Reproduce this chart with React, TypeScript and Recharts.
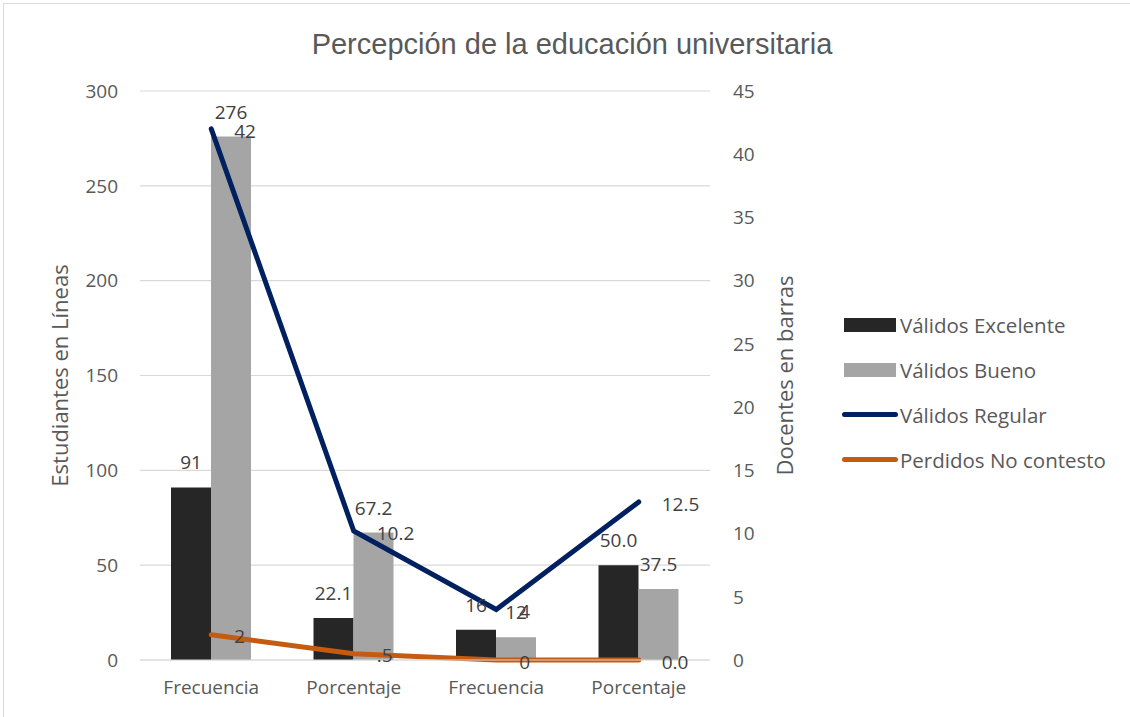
import React from 'react';
import { Bar, CartesianGrid, ComposedChart, LabelList, Line, XAxis, YAxis } from 'recharts';

const categories = ['Frecuencia', 'Porcentaje', 'Frecuencia', 'Porcentaje'];
const excelente = [91, 22.1, 16, 50.0];
const bueno = [276, 67.2, 12, 37.5];
const regular = [42, 10.2, 4, 12.5];
const noContesto = [2, 0.5, 0, 0];

const excelenteLabels = ['91', '22.1', '16', '50.0'];
const buenoLabels = ['276', '67.2', '12', '37.5'];
const regularLabels = ['42', '10.2', '4', '12.5'];
const noContestoLabels = ['2', '.5', '0', '0.0'];

const leftTicks = [0, 50, 100, 150, 200, 250, 300];
const rightTicks = [0, 5, 10, 15, 20, 25, 30, 35, 40, 45];

const data = categories.map((c, i) => ({
  name: c,
  excelente: excelente[i],
  bueno: bueno[i],
  regular: regular[i],
  noContesto: noContesto[i],
}));

const FONT = '"Open Sans", Lato, sans-serif';
const TEXT = '#595959';
const LABEL = '#404040';

const legendItems = [
  { name: 'Válidos Excelente', color: '#262626', kind: 'bar' },
  { name: 'Válidos Bueno', color: '#a5a5a5', kind: 'bar' },
  { name: 'Válidos Regular', color: '#002060', kind: 'line' },
  { name: 'Perdidos No contesto', color: '#c55a11', kind: 'line' },
];

// data labels to the right of line points
const sideLabel = (labels: string[]) => (props: any) => {
  const { x, y, index } = props;
  return (
    <text x={x + 23} y={y + 2} dy="0.35em" textAnchor="start" fontSize={19} fill={LABEL} fontFamily={FONT}>
      {labels[index]}
    </text>
  );
};

export default function App() {
  return (
    <div style={{ position: 'absolute', left: 0, top: 0, width: 1130, height: 717, background: '#fff', fontFamily: FONT }}>
      <div style={{ position: 'absolute', left: 3, top: 3, width: 1140, height: 730, border: '1px solid #d9d9d9' }} />
      <div
        style={{
          position: 'absolute',
          left: 0,
          width: 1144,
          top: 25,
          textAlign: 'center',
          fontFamily: '"Liberation Sans", Arial, sans-serif',
          fontSize: 29,
          color: TEXT,
          lineHeight: '38px',
        }}
      >
        Percepción de la educación universitaria
      </div>
      <ComposedChart
        width={1130}
        height={717}
        data={data}
        margin={{ top: 91, right: 320, bottom: 0, left: 0 }}
        barSize={40}
        barGap={0}
        style={{ position: 'absolute', left: 0, top: 0 }}
      >
        <CartesianGrid vertical={false} stroke="#d9d9d9" strokeWidth={1.2} yAxisId="left" />
        <XAxis
          dataKey="name"
          height={57}
          tickLine={false}
          axisLine={{ stroke: '#d9d9d9', strokeWidth: 1.2 }}
          tickMargin={15}
          tick={{ fontSize: 19, fill: TEXT, fontFamily: FONT }}
        />
        <YAxis
          yAxisId="left"
          width={140}
          domain={[0, 300]}
          ticks={leftTicks}
          tickLine={false}
          axisLine={false}
          tickMargin={16}
          tick={{ fontSize: 19, fill: TEXT, fontFamily: FONT }}
          label={{ value: 'Estudiantes en Líneas', angle: -90, position: 'center', dx: -10, fontSize: 22, fill: TEXT, fontFamily: FONT }}
        />
        <YAxis
          yAxisId="right"
          orientation="right"
          width={100}
          domain={[0, 45]}
          ticks={rightTicks}
          tickLine={false}
          axisLine={false}
          tickMargin={17}
          tick={{ fontSize: 19, fill: TEXT, fontFamily: FONT }}
          label={{ value: 'Docentes en barras', angle: -90, position: 'center', dx: 25, fontSize: 22, fill: TEXT, fontFamily: FONT }}
        />
        <Bar yAxisId="left" dataKey="excelente" name="Válidos Excelente" fill="#262626" isAnimationActive={false}>
          <LabelList
            dataKey="excelente"
            position="top"
            offset={18}
            fontSize={19}
            fill={LABEL}
            fontFamily={FONT}
            formatter={(v: any) => excelenteLabels[excelente.indexOf(v)]}
          />
        </Bar>
        <Bar yAxisId="left" dataKey="bueno" name="Válidos Bueno" fill="#a5a5a5" isAnimationActive={false}>
          <LabelList
            dataKey="bueno"
            position="top"
            offset={18}
            fontSize={19}
            fill={LABEL}
            fontFamily={FONT}
            formatter={(v: any) => buenoLabels[bueno.indexOf(v)]}
          />
        </Bar>
        <Line
          yAxisId="right"
          dataKey="regular"
          name="Válidos Regular"
          type="linear"
          stroke="#002060"
          strokeWidth={5}
          strokeLinecap="round"
          dot={false}
          activeDot={false}
          isAnimationActive={false}
        >
          <LabelList dataKey="regular" content={sideLabel(regularLabels)} />
        </Line>
        <Line
          yAxisId="right"
          dataKey="noContesto"
          name="Perdidos No contesto"
          type="linear"
          stroke="#c55a11"
          strokeWidth={5}
          strokeLinecap="round"
          dot={false}
          activeDot={false}
          isAnimationActive={false}
        >
          <LabelList dataKey="noContesto" content={sideLabel(noContestoLabels)} />
        </Line>
      </ComposedChart>
      <div style={{ position: 'absolute', left: 842, top: 302 }}>
        {legendItems.map((it) => (
          <div key={it.name} style={{ display: 'flex', alignItems: 'center', height: 45 }}>
            {it.kind === 'bar' ? (
              <div style={{ width: 52, height: 14, background: it.color, marginLeft: 2, marginRight: 4 }} />
            ) : (
              <div style={{ width: 56, height: 5, borderRadius: 3, background: it.color, marginRight: 2 }} />
            )}
            <span style={{ fontSize: 20.5, color: TEXT, whiteSpace: 'nowrap' }}>{it.name}</span>
          </div>
        ))}
      </div>
    </div>
  );
}
